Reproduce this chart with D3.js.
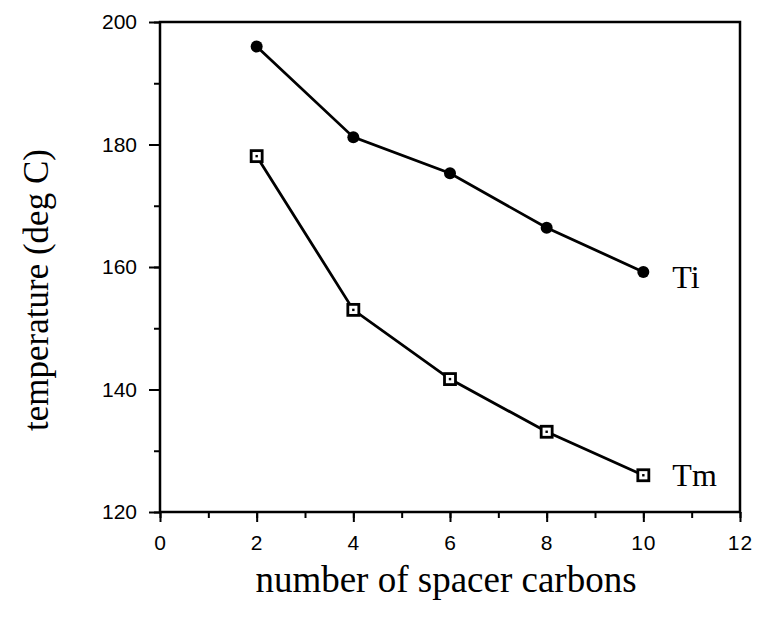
<!DOCTYPE html>
<html>
<head>
<meta charset="utf-8">
<script src="https://cdn.jsdelivr.net/npm/d3@7"></script>
<style>
  body { margin: 0; background: #fff; }
  svg { display: block; }
  .tick text { font-family: "Liberation Sans", Arial, sans-serif; font-size: 21px; fill: #000; }
</style>
</head>
<body>
<svg width="760" height="622"></svg>
<script>
var carbons = [2, 4, 6, 8, 10],
    ti = [196.0, 181.2, 175.3, 166.4, 159.2],
    tm = [178.1, 153.0, 141.7, 133.1, 126.0],
    xTicks = [0, 2, 4, 6, 8, 10, 12],
    yTicks = [120, 140, 160, 180, 200];

var svg = d3.select("svg"),
    margin = {top: 22, right: 20, bottom: 110, left: 160},
    width = 760 - margin.left - margin.right,
    height = 622 - margin.top - margin.bottom;

var x = d3.scaleLinear().domain([0, 12]).range([0, width]);
var y = d3.scaleLinear().domain([120, 200]).range([height, 0]);

var g = svg.append("g").attr("transform", "translate(" + margin.left + "," + margin.top + ")");

// frame
g.append("rect")
    .attr("width", width).attr("height", height)
    .attr("fill", "none").attr("stroke", "#000").attr("stroke-width", 2.5);

// minor ticks
g.append("g")
    .attr("transform", "translate(0," + height + ")")
    .call(d3.axisBottom(x).ticks(12).tickSize(6).tickFormat(""))
    .call(function(a) { a.select(".domain").remove(); a.selectAll("line").attr("stroke-width", 2); });
g.append("g")
    .call(d3.axisLeft(y).ticks(8).tickSize(6).tickFormat(""))
    .call(function(a) { a.select(".domain").remove(); a.selectAll("line").attr("stroke-width", 2); });

// major ticks with labels
g.append("g")
    .attr("transform", "translate(0," + height + ")")
    .call(d3.axisBottom(x).tickValues(xTicks).tickSize(10).tickPadding(13))
    .call(function(a) {
      a.select(".domain").remove();
      a.selectAll("line").attr("stroke-width", 2);
      a.selectAll("text").style("letter-spacing", "1px");
    });
g.append("g")
    .call(d3.axisLeft(y).tickValues(yTicks).tickSize(11).tickPadding(12))
    .call(function(a) {
      a.select(".domain").remove();
      a.selectAll("line").attr("stroke-width", 2);
    });

var line = d3.line().x(function(d) { return x(d[0]); }).y(function(d) { return y(d[1]); });

var tiData = d3.zip(carbons, ti),
    tmData = d3.zip(carbons, tm);

g.append("path").datum(tiData).attr("d", line)
    .attr("fill", "none").attr("stroke", "#000").attr("stroke-width", 2.8);
g.append("path").datum(tmData).attr("d", line)
    .attr("fill", "none").attr("stroke", "#000").attr("stroke-width", 2.8);

g.selectAll(".ti").data(tiData).enter().append("circle")
    .attr("cx", function(d) { return x(d[0]); })
    .attr("cy", function(d) { return y(d[1]); })
    .attr("r", 6).attr("fill", "#000");

var sq = g.selectAll(".tm").data(tmData).enter().append("g")
    .attr("transform", function(d) { return "translate(" + x(d[0]) + "," + y(d[1]) + ")"; });
sq.append("rect").attr("x", -5.5).attr("y", -5.5).attr("width", 11).attr("height", 11)
    .attr("fill", "#fff").attr("stroke", "#000").attr("stroke-width", 2.8);
sq.append("rect").attr("x", -1.2).attr("y", -1.2).attr("width", 2.4).attr("height", 2.4).attr("fill", "#000");

// series labels
var serif = "Liberation Serif, Times New Roman, serif";
g.append("text").attr("x", x(10) + 29).attr("y", y(ti[4]) + 16)
    .attr("font-family", serif).attr("font-size", 32).text("Ti");
g.append("text").attr("x", x(10) + 29).attr("y", y(tm[4]) + 11)
    .attr("font-family", serif).attr("font-size", 32).text("Tm");

// axis titles
svg.append("text")
    .attr("x", 446).attr("y", 592)
    .attr("text-anchor", "middle").attr("font-family", serif).attr("font-size", 37)
    .text("number of spacer carbons");
svg.append("text")
    .attr("transform", "translate(48,290) rotate(-90)")
    .attr("text-anchor", "middle").attr("font-family", serif).attr("font-size", 35)
    .text("temperature (deg C)");
</script>
</body>
</html>
